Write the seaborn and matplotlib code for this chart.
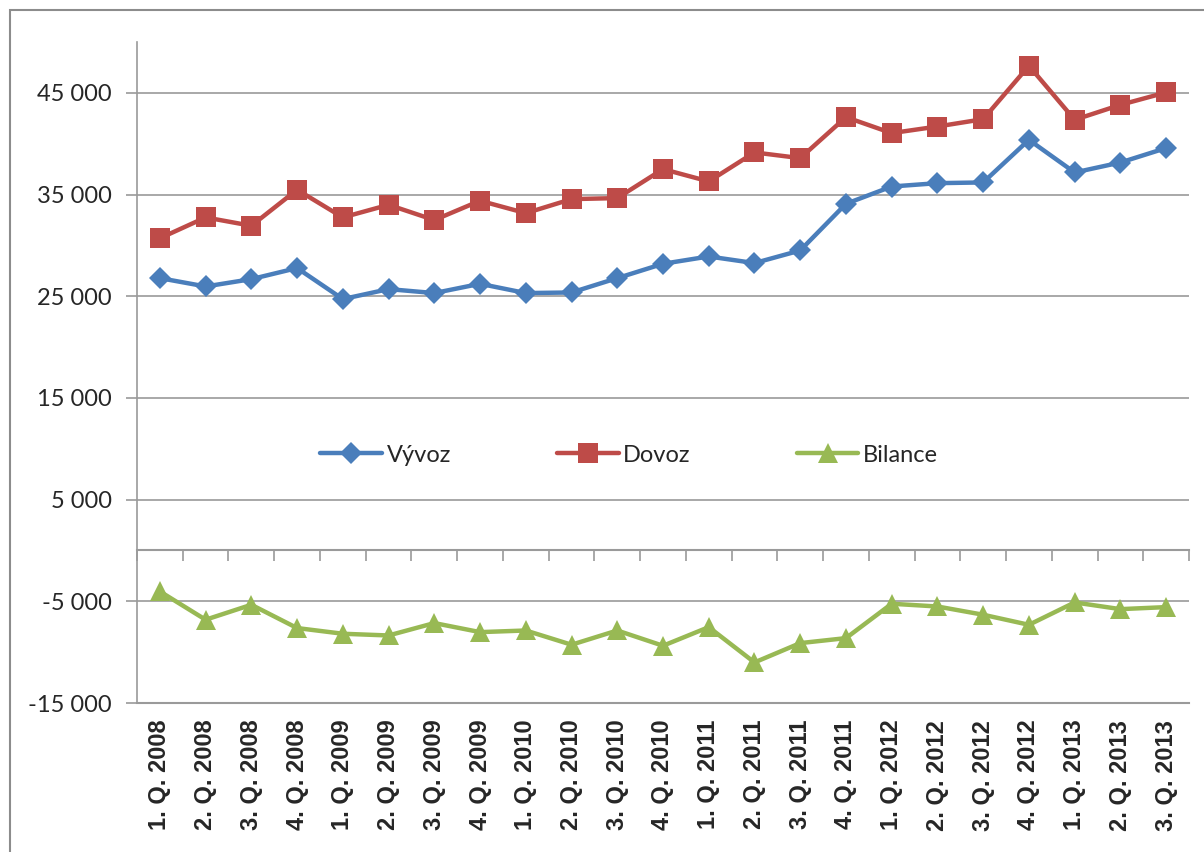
import matplotlib
matplotlib.use("Agg")
import matplotlib.pyplot as plt
from matplotlib.patches import Rectangle
from matplotlib.ticker import FuncFormatter
import seaborn as sns
import pandas as pd
import numpy as np

quarters = ["1. Q. 2008", "2. Q. 2008", "3. Q. 2008", "4. Q. 2008",
            "1. Q. 2009", "2. Q. 2009", "3. Q. 2009", "4. Q. 2009",
            "1. Q. 2010", "2. Q. 2010", "3. Q. 2010", "4. Q. 2010",
            "1. Q. 2011", "2. Q. 2011", "3. Q. 2011", "4. Q. 2011",
            "1. Q. 2012", "2. Q. 2012", "3. Q. 2012", "4. Q. 2012",
            "1. Q. 2013", "2. Q. 2013", "3. Q. 2013"]
vyvoz = [26780, 25960, 26680, 27770, 24720, 25700, 25310, 26220,
         25310, 25370, 26780, 28190, 28910, 28260, 29500, 34090,
         35790, 36120, 36190, 40380, 37170, 38150, 39570]
dovoz = [30700, 32750, 31930, 35470, 32750, 33990, 32490, 34390,
         33170, 34550, 34650, 37500, 36290, 39140, 38580, 42610,
         41040, 41690, 42410, 47660, 42350, 43820, 45040]
bilance = [-4030, -6810, -5340, -7630, -8190, -8360, -7140, -8030,
           -7870, -9270, -7870, -9370, -7540, -11010, -9110, -8620,
           -5240, -5510, -6320, -7310, -5110, -5770, -5570]

y_ticks = [-15000, -5000, 5000, 15000, 25000, 35000, 45000]

sns.set_style("white")
plt.rcParams["font.family"] = ["Lato", "DejaVu Sans"]

fig = plt.figure(figsize=(12.04, 8.52), dpi=100)
fig.subplots_adjust(left=137/1204, right=1189/1204, top=1-42/852, bottom=1-703/852)
ax = fig.add_subplot(111)

df = pd.DataFrame({"x": np.arange(len(quarters)), "Vývoz": vyvoz,
                   "Dovoz": dovoz, "Bilance": bilance})

series = [("Vývoz", "#4A7EBB", "D", 11),
          ("Dovoz", "#BE4B48", "s", 14),
          ("Bilance", "#98B954", "^", 15)]
for name, col, mk, ms in series:
    sns.lineplot(data=df, x="x", y=name, ax=ax, color=col, linewidth=3.2,
                 marker=mk, markersize=ms, markeredgewidth=0, label=name, zorder=3)

ax.set_xlim(-0.5, len(quarters) - 0.5)
ax.set_ylim(-15000, 50000)
ax.set_yticks(y_ticks)
ax.yaxis.set_major_formatter(FuncFormatter(lambda v, p: f"{int(v):,}".replace(",", " ")))
ax.grid(axis="y", color="#9a9a9a", linewidth=1.2)
ax.grid(axis="x", visible=False)
ax.set_xlabel("")
ax.set_ylabel("")

ax.set_xticks(np.arange(len(quarters)))
ax.set_xticklabels(quarters, rotation=90, fontweight="bold", fontsize=17,
                   family=["Liberation Sans", "DejaVu Sans"])
ax.tick_params(axis="x", length=0, pad=12)
ax.tick_params(axis="y", length=8, color="#9a9a9a", width=1.2, labelsize=17, pad=10,
               direction="out", left=True)

for s in ["top", "right"]:
    ax.spines[s].set_visible(False)
ax.spines["left"].set_color("#9a9a9a")
ax.spines["left"].set_linewidth(1.2)
ax.spines["bottom"].set_color("#9a9a9a")
ax.spines["bottom"].set_linewidth(1.5)

# category axis at zero with tick marks between categories
zero_frac = (0 - (-15000)) / (50000 - (-15000))
sec = ax.secondary_xaxis(zero_frac)
sec.set_xticks(np.arange(len(quarters) + 1) - 0.5)
sec.set_xticklabels([])
sec.tick_params(axis="x", length=8, width=1.2, color="#9a9a9a", direction="out")
sec.spines["bottom"].set_color("#9a9a9a")
sec.spines["bottom"].set_linewidth(1.5)

leg = ax.legend(loc="center", bbox_to_anchor=(0.468, 0.375), ncol=3, frameon=False,
                fontsize=17, columnspacing=4.5, handlelength=2.6, handletextpad=0.2)

fig.patches.append(Rectangle((10/1204, -0.1), 1.2, 1 - 10/852 + 0.1,
                             transform=fig.transFigure, fill=False,
                             edgecolor="#8c8c8c", linewidth=1.5))

fig.savefig("out.png", dpi=100)
